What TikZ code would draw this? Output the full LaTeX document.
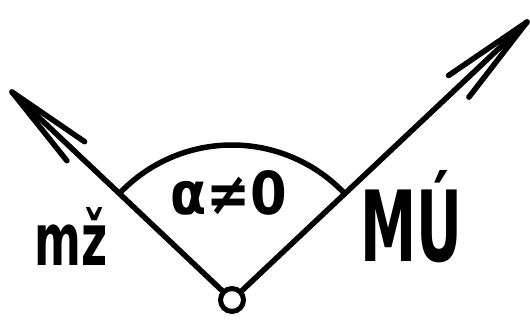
\documentclass[tikz,border=0pt]{standalone}
\usepackage{fontspec}
\setmainfont{DejaVu Sans}
\usetikzlibrary{calc}
\begin{document}
\begin{tikzpicture}[x=1pt,y=-1pt,
  pen/.style={line width=5.5pt,line cap=round,line join=round,black},
  hand/.style={inner sep=0pt,anchor=center,font=\bfseries}]
\useasboundingbox (0,0) rectangle (530,320);
\node[circle,draw,line width=5pt,minimum size=23pt,inner sep=0pt] (o) at (232,300) {};
\coordinate (tipL) at (12,92);
\coordinate (tipR) at (527,22);
\draw[pen] (o) -- (tipL);
\draw[pen] (o) -- (tipR);
\draw[pen] ($(tipL)!88pt!9:(o)$) -- (tipL) -- ($(tipL)!88pt!-8:(o)$);
\draw[pen] ($(tipR)!95pt!9:(o)$) -- (tipR) -- ($(tipR)!95pt!-9:(o)$);
\draw[pen] ($(o.center)+(-43.3:155)$) arc[start angle=-43.3,end angle=-136.6,radius=155];
\node[hand] (alpha) at (229,193) {\resizebox{117pt}{44pt}{α≠0}};
\node[hand] (mz) at (71,236) {\resizebox{73pt}{58pt}{mž}};
\node[hand] (mu) at (411,217) {\resizebox{102pt}{91pt}{MÚ}};
\end{tikzpicture}
\end{document}
